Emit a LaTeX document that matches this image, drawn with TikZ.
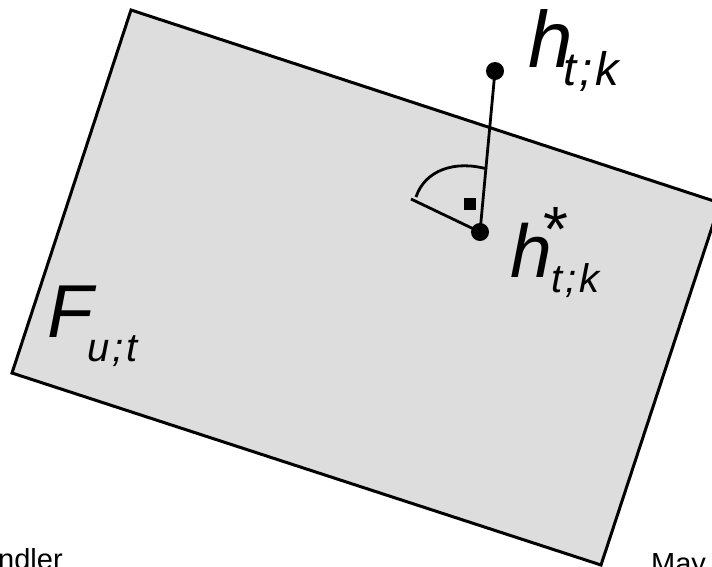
\documentclass[tikz,border=0pt]{standalone}
\usepackage{fontspec}
\setmainfont{Liberation Sans}
\definecolor{planefill}{RGB}{221,221,221}
\begin{document}
\begin{tikzpicture}[x=1pt,y=-1pt,
  dot/.style={circle,fill=black,inner sep=0pt,minimum size=18pt},
  lbl/.style={inner sep=0pt,anchor=base west},
  bigA/.style={lbl,font=\itshape\fontsize{80}{80}\selectfont},
  bigB/.style={lbl,font=\itshape\fontsize{75}{75}\selectfont},
  subA/.style={lbl,font=\itshape\fontsize{47}{47}\selectfont},
  subB/.style={lbl,font=\itshape\fontsize{40}{40}\selectfont},
  starB/.style={lbl,font=\fontsize{64}{64}\selectfont},
  foot/.style={lbl,font=\fontsize{29}{29}\selectfont},
  thinline/.style={line width=2.8pt}]
\useasboundingbox (0,0) rectangle (712,566);
\clip (0,0) rectangle (712,566);
\coordinate (T) at (131,10);
\coordinate (R) at (720,203);
\coordinate (B) at (601,565);
\coordinate (L) at (12,373);
\draw[fill=planefill, line width=3pt, line join=miter] (T) -- (R) -- (B) -- (L) -- cycle;
\node[dot] (h) at (495,71) {};
\node[dot] (hs) at (480,232) {};
\draw[thinline] (h.center) -- (hs.center);
\coordinate (pe) at (411,199);
\coordinate (a1) at (416,197);
\coordinate (a2) at (487,169);
\draw[thinline] (hs.center) -- (pe);
\draw[thinline] (a1) .. controls (425,170) and (455,160) .. (a2);
\node[fill=black, minimum size=12pt, inner sep=0pt] (sq) at (470,204) {};
\node[bigA] (hl) at (528,67) {h};
\node[subA] (hlsub) at (563,85) {t\kern3pt;\kern3pt k};
\node[bigB] (hsl) at (510,277) {h};
\node[subB] (hslsub) at (551,292) {t\kern3pt;\kern3pt k};
\node[starB] (star) at (543,251) {*};
\node[bigB] (Fl) at (47,337) {F};
\node[subB] (Fsub) at (87,361) {u\kern3pt;\kern3pt t};
\node[foot] (f1) at (-2,569) {ndler};
\node[foot] (f2) at (651,573) {May};
\end{tikzpicture}
\end{document}
